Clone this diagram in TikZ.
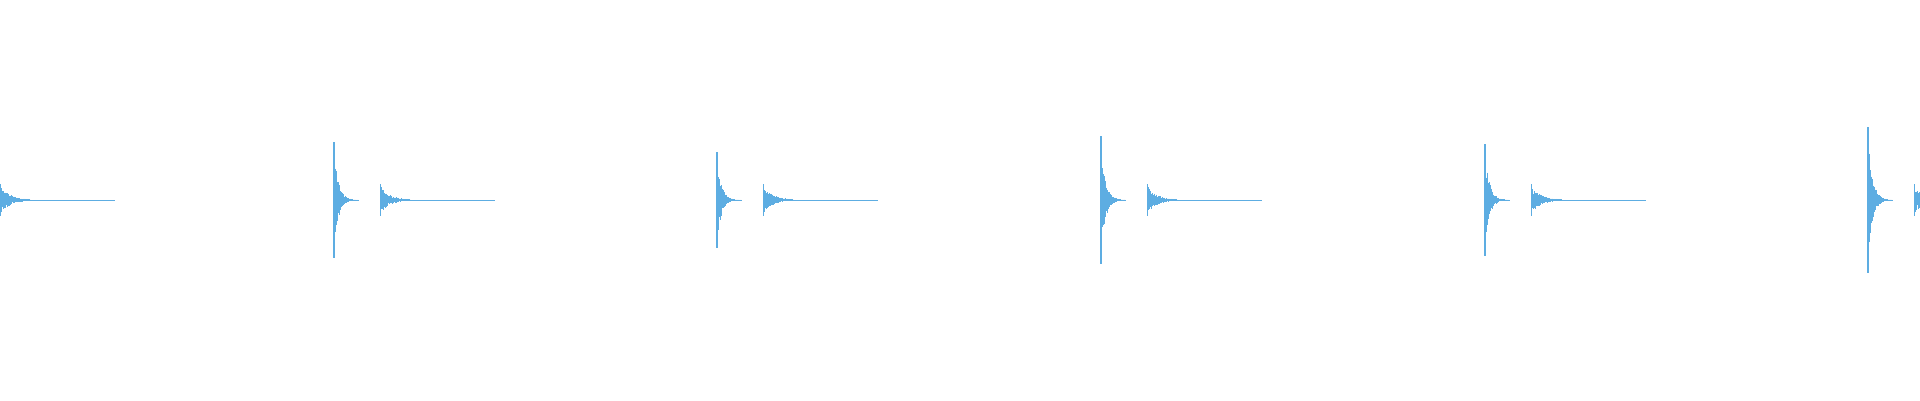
\documentclass[tikz,border=0pt]{standalone}
\definecolor{wave}{RGB}{93,173,226}
\tikzset{trace/.style={wave,line width=0.9pt}}
% one strike: big hit followed by a smaller echo
\newcommand{\strike}[2]{%
	\draw[trace,line width=2pt] (#1+1,200-#2) -- (#1+1,200+#2);
	\foreach \i in {0,...,50}
		\draw[trace] ({#1+\i*0.5},{200-#2*exp(-\i/9)*(0.55+0.45*rnd)}) -- ({#1+\i*0.5},{200+#2*exp(-\i/9)*(0.55+0.45*rnd)});
	\draw[trace] (#1,200) -- (#1+24,200);
	\echo{#1+47}}
\newcommand{\echo}[1]{%
	\draw[trace,line width=0.6pt] (#1,184) -- (#1,216);
	\foreach \i in {1,...,60}
		\draw[trace] ({#1+\i*0.5},{200-14*exp(-\i/20)*(0.5+0.5*rnd)}) -- ({#1+\i*0.5},{200+14*exp(-\i/20)*(0.5+0.5*rnd)});
	\draw[trace,line width=1pt] (#1,200) -- (#1+115,200);}
\begin{document}
\begin{tikzpicture}[x=1pt,y=-1pt]
	\pgfmathsetseed{7}
	\useasboundingbox (0,0) rectangle (1920,400);
	\echo{0}
	\strike{333}{58}
	\strike{716}{48}
	\strike{1100}{64}
	\strike{1484}{56}
	\strike{1867}{73}
\end{tikzpicture}
\end{document}
